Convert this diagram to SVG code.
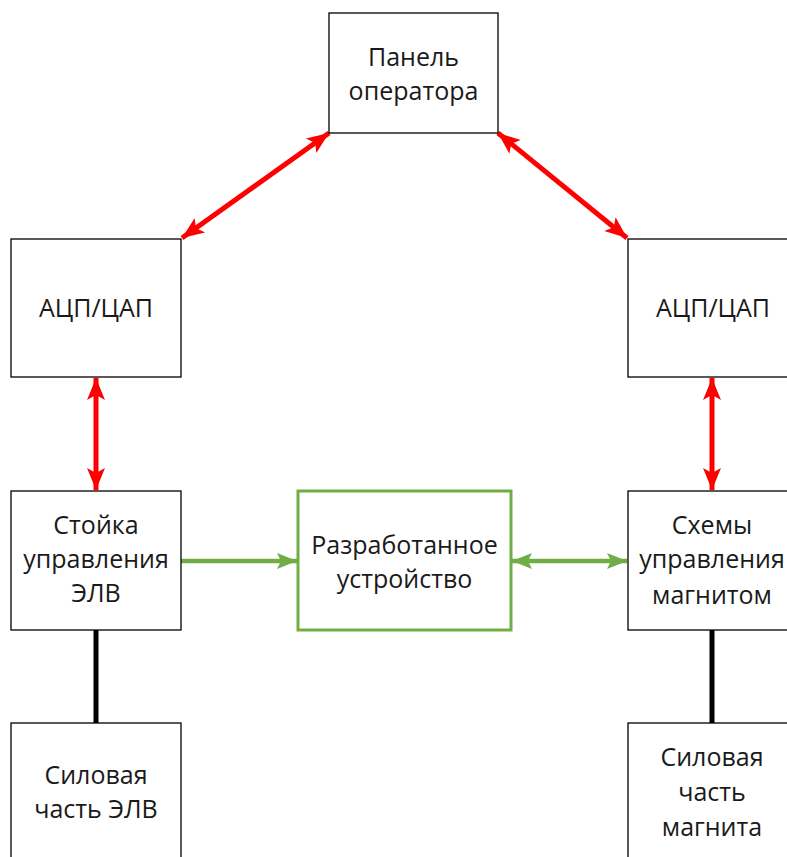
<svg xmlns="http://www.w3.org/2000/svg" width="787" height="857" viewBox="0 0 787 857">
<style>
.box{fill:#fff;stroke:#000;stroke-width:1.3}
.gbox{fill:#fff;stroke:#70ad47;stroke-width:3}
text{font-family:"Open Sans","Noto Sans","Liberation Sans",sans-serif;font-size:25px;fill:#1a1a1a;text-anchor:middle}
.red{stroke:#ff0000;stroke-width:5;fill:none}
.green{stroke:#70ad47;stroke-width:4.5;fill:none}
.blk{stroke:#000;stroke-width:5;fill:none}
</style>
<defs>
<marker id="ar" markerUnits="userSpaceOnUse" markerWidth="24" markerHeight="24" viewBox="0 0 24 24" refX="22" refY="12" orient="auto-start-reverse"><path d="M0,3 L22,12 L0,21 L5,12 Z" fill="#ff0000"/></marker>
<marker id="ag" markerUnits="userSpaceOnUse" markerWidth="24" markerHeight="24" viewBox="0 0 24 24" refX="20" refY="12" orient="auto-start-reverse"><path d="M0,4 L20,12 L0,20 L4,12 Z" fill="#70ad47"/></marker>
</defs>
<g id="connectors">
<line class="red" x1="182" y1="238" x2="329" y2="133" marker-start="url(#ar)" marker-end="url(#ar)"/>
<line class="red" x1="498" y1="133" x2="627" y2="238" marker-start="url(#ar)" marker-end="url(#ar)"/>
<line class="red" x1="96" y1="378" x2="96" y2="490" marker-start="url(#ar)" marker-end="url(#ar)"/>
<line class="red" x1="712" y1="378" x2="712" y2="490" marker-start="url(#ar)" marker-end="url(#ar)"/>
<line class="green" x1="181" y1="561" x2="297" y2="561" marker-end="url(#ag)"/>
<line class="green" x1="512" y1="561" x2="627" y2="561" marker-start="url(#ag)" marker-end="url(#ag)"/>
<line class="blk" x1="96" y1="630" x2="96" y2="723"/>
<line class="blk" x1="712" y1="630" x2="712" y2="723"/>
</g>
<g id="panel"><rect class="box" x="329" y="13" width="169" height="120"/><text x="413.5" y="66">Панель</text><text x="413.5" y="100">оператора</text></g>
<g id="adc-left"><rect class="box" x="11" y="239" width="170" height="138"/><text x="96" y="317">АЦП/ЦАП</text></g>
<g id="adc-right"><rect class="box" x="628" y="239" width="170" height="138"/><text x="713" y="317">АЦП/ЦАП</text></g>
<g id="stoika"><rect class="box" x="11" y="491" width="170" height="139"/><text x="96" y="534">Стойка</text><text x="96" y="568">управления</text><text x="96" y="602">ЭЛВ</text></g>
<g id="device"><rect class="gbox" x="298" y="491" width="213" height="139"/><text x="404.5" y="554">Разработанное</text><text x="404.5" y="588">устройство</text></g>
<g id="schemes"><rect class="box" x="628" y="491" width="170" height="139"/><text x="712" y="534">Схемы</text><text x="712" y="568">управления</text><text x="712" y="604">магнитом</text></g>
<g id="power-left"><rect class="box" x="11" y="723" width="170" height="150"/><text x="96" y="784">Силовая</text><text x="96" y="818">часть ЭЛВ</text></g>
<g id="power-right"><rect class="box" x="628" y="723" width="170" height="150"/><text x="712" y="766">Силовая</text><text x="712" y="801">часть</text><text x="712" y="836">магнита</text></g>
</svg>
